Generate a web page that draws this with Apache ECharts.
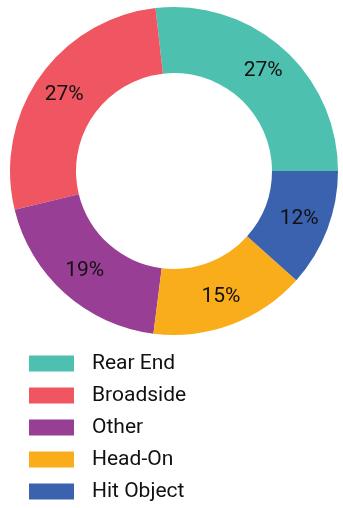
<!DOCTYPE html>
<html>
<head>
<meta charset="utf-8">
<script src="https://cdn.jsdelivr.net/npm/echarts@6/dist/echarts.min.js"></script>
<style>
html,body{margin:0;padding:0;background:#fff;}
#chart{width:343px;height:508px;}
</style>
</head>
<body>
<div id="chart"></div>
<script>
var categories = ['Rear End', 'Broadside', 'Other', 'Head-On', 'Hit Object'];
var values = [26.8, 27.0, 19.2, 15.4, 11.6];
var colors = ['#4DC0B0', '#F05661', '#983E94', '#FAAD1A', '#3A62AE'];

var chart = echarts.init(document.getElementById('chart'), null, {renderer: 'canvas'});
chart.setOption({
  animation: false,
  color: colors,
  legend: {
    orient: 'vertical',
    left: 24,
    top: 348,
    height: 160,
    itemWidth: 45,
    itemHeight: 16,
    itemGap: 11,
    icon: 'rect',
    data: categories,
    textStyle: {
      fontFamily: 'Roboto',
      fontSize: 21,
      lineHeight: 21,
      color: '#111',
      padding: [0, 0, 0, 13]
    }
  },
  series: [{
    type: 'pie',
    radius: [98, 164],
    center: [174, 171],
    startAngle: 0,
    clockwise: false,
    avoidLabelOverlap: false,
    label: {
      position: 'inside',
      fontFamily: 'Roboto',
      fontSize: 21,
      color: '#111',
      textBorderWidth: 0,
      formatter: function (p) { return Math.round(p.percent) + '%'; }
    },
    labelLine: {show: false},
    itemStyle: {borderWidth: 0},
    emphasis: {disabled: true},
    data: categories.map(function (c, i) { return {name: c, value: values[i]}; })
  }]
});
</script>
</body>
</html>
